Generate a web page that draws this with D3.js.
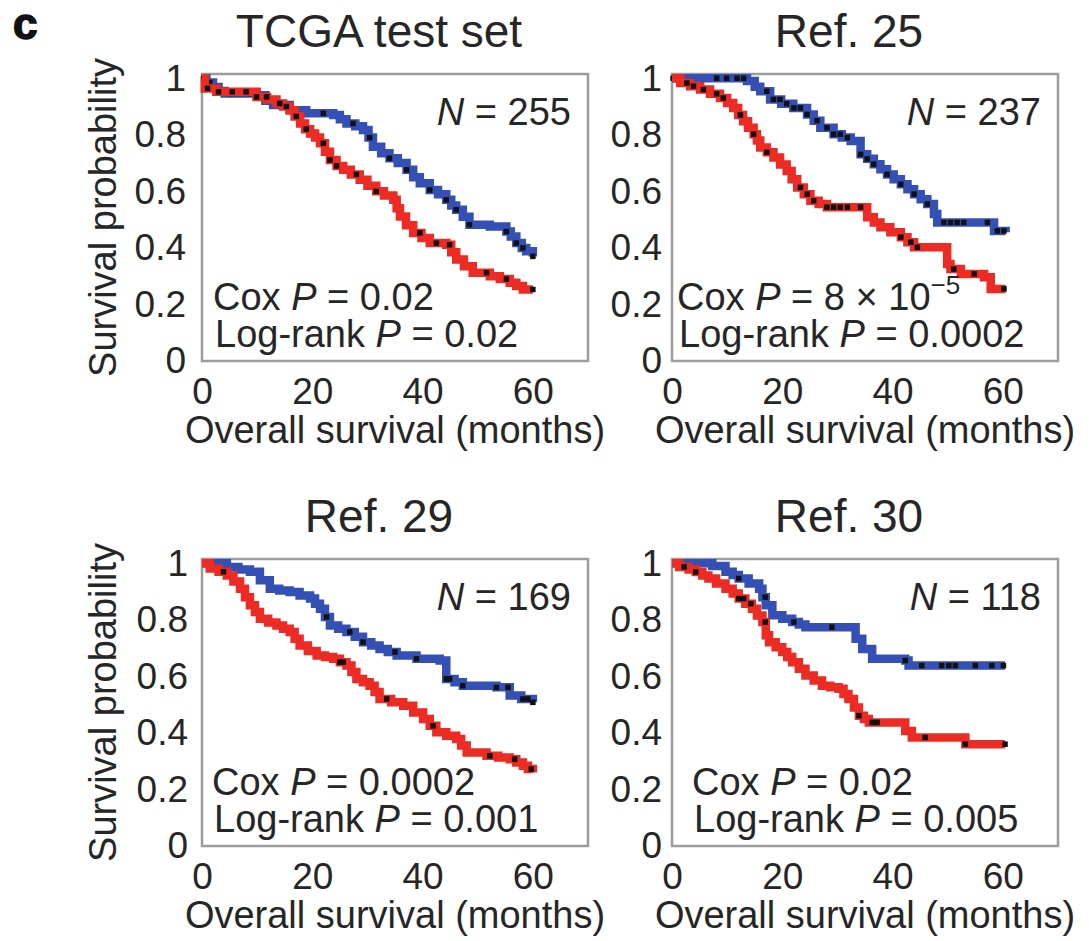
<!DOCTYPE html>
<html>
<head>
<meta charset="utf-8">
<script src="https://cdn.jsdelivr.net/npm/d3@7"></script>
<style>
  body { margin: 0; background: #fff; }
  svg { display: block; font-family: 'Liberation Sans', Arial, Helvetica, sans-serif; }
</style>
</head>
<body>
<div id="chart"></div>
<script>
// panel texts
const panelTitles = ['TCGA test set', 'Ref. 25', 'Ref. 29', 'Ref. 30']
const sampleSizes = ['255', '237', '169', '118']
const coxP = ['0.02', '8 × 10^−5', '0.0002', '0.02']
const logRankP = ['0.02', '0.0002', '0.001', '0.005']
const xTicks = [0, 20, 40, 60]
const yTicks = [0, 0.2, 0.4, 0.6, 0.8, 1]

// Kaplan-Meier steps: [months, survival] (value holds from that month on)
const tcgaBlue = [[0, 1], [0.8, 0.985], [2, 0.969], [3, 0.955], [4.1, 0.946], [9.9, 0.94], [11.5, 0.92], [12.9, 0.905],
    [15.9, 0.887], [18.9, 0.876], [23.8, 0.87], [25, 0.855], [26.2, 0.84], [27.8, 0.83], [29.2, 0.817], [30.2, 0.79],
    [31, 0.758], [32.5, 0.735], [34, 0.717], [35.5, 0.7], [37.1, 0.676], [38.3, 0.65], [39.5, 0.629], [41.3, 0.605],
    [42.8, 0.59], [44.3, 0.57], [45.2, 0.55], [46.1, 0.535], [47.3, 0.51], [48.5, 0.482], [52.2, 0.476], [55.2, 0.458],
    [56, 0.44], [57, 0.417], [58, 0.4], [58.8, 0.388], [60, 0.37]]
const tcgaRed = [[0, 1], [0.5, 0.964], [2.6, 0.952], [9.9, 0.934], [11.8, 0.925], [13.5, 0.911], [14.7, 0.9], [15.9, 0.887],
    [16.8, 0.865], [17.8, 0.84], [18.7, 0.82], [19.6, 0.805], [20.5, 0.79], [21.4, 0.77], [22.3, 0.74], [23.2, 0.711],
    [24.4, 0.69], [25.6, 0.676], [27, 0.66], [28.6, 0.641], [30, 0.62], [31.6, 0.6], [33, 0.585], [34.7, 0.57],
    [35.3, 0.54], [35.9, 0.511], [37, 0.48], [38.3, 0.453], [39.8, 0.435], [41.3, 0.417], [44.3, 0.411], [45.2, 0.385],
    [46.1, 0.359], [47.5, 0.335], [49.1, 0.312], [52.2, 0.3], [54, 0.29], [55.8, 0.277], [57, 0.265], [58.2, 0.253], [60, 0.253]]
const ref25Blue = [[0, 1], [8.7, 1], [13.6, 0.99], [15, 0.97], [16, 0.954], [17.8, 0.925], [19.8, 0.91], [22, 0.895],
    [24.5, 0.872], [25.7, 0.85], [26.9, 0.825], [29.3, 0.802], [30.8, 0.79], [32.4, 0.778], [34.2, 0.731], [35.4, 0.715],
    [36.6, 0.696], [37.8, 0.678], [39, 0.66], [40.2, 0.643], [41.5, 0.625], [42.7, 0.607], [43.9, 0.59], [45.1, 0.572],
    [46.3, 0.555], [47.5, 0.52], [48.1, 0.49], [57.8, 0.49], [58.4, 0.46], [60.5, 0.455]]
const ref25Red = [[0, 1], [1.5, 0.983], [3.3, 0.972], [5.1, 0.96], [6.9, 0.945], [8.7, 0.93], [10, 0.912], [11.1, 0.895],
    [12, 0.87], [12.9, 0.848], [13.8, 0.825], [14.8, 0.802], [15.4, 0.78], [16, 0.755], [17.2, 0.738], [18.4, 0.72],
    [19.6, 0.695], [20.8, 0.672], [21.7, 0.643], [22.7, 0.614], [23.9, 0.59], [25.1, 0.567], [26.6, 0.555], [28.1, 0.544],
    [33, 0.544], [35.4, 0.508], [36.6, 0.49], [37.8, 0.473], [39.6, 0.455], [41.5, 0.438], [42.7, 0.42], [43.9, 0.402],
    [48.7, 0.402], [49.9, 0.343], [50.5, 0.325], [52.4, 0.308], [56.6, 0.296], [57.8, 0.255], [60.5, 0.255]]
const ref29Blue = [[0, 1], [3.3, 1], [4.5, 0.987], [6.6, 0.978], [8.7, 0.97], [10.5, 0.94], [12.3, 0.91], [14, 0.904],
    [15.9, 0.898], [17.7, 0.886], [19.6, 0.875], [20.5, 0.857], [21.4, 0.839], [22.3, 0.81], [23.2, 0.78], [24.7, 0.768],
    [26.2, 0.757], [27.7, 0.74], [29.2, 0.721], [30.7, 0.709], [32.2, 0.697], [33.7, 0.686], [35.3, 0.674], [38.9, 0.662],
    [43.1, 0.656], [44.3, 0.591], [45.8, 0.579], [47.3, 0.567], [53.4, 0.561], [55.8, 0.532], [57.9, 0.52], [60, 0.508]]
const ref29Red = [[0, 1], [1.4, 0.981], [3, 0.97], [4.5, 0.957], [5.7, 0.935], [6.9, 0.91], [7.8, 0.88], [8.7, 0.851],
    [9.6, 0.828], [10.5, 0.804], [12, 0.79], [13.5, 0.78], [14.7, 0.768], [15.9, 0.757], [16.8, 0.733], [17.7, 0.709],
    [19.2, 0.69], [20.8, 0.674], [22.3, 0.668], [23.8, 0.662], [25, 0.65], [26.2, 0.638], [27.1, 0.615], [28, 0.591],
    [29.2, 0.579], [30.4, 0.567], [31.3, 0.545], [32.2, 0.52], [34.3, 0.508], [36.5, 0.496], [38.3, 0.472], [40.1, 0.449],
    [41.3, 0.425], [42.5, 0.402], [44.3, 0.39], [46.1, 0.378], [47, 0.355], [48, 0.331], [51.6, 0.319], [53.7, 0.313],
    [55.8, 0.307], [57, 0.295], [58.2, 0.284], [59.1, 0.272], [60, 0.26]]
const ref30Blue = [[0, 1], [6.1, 1], [7.3, 0.99], [9.7, 0.97], [11, 0.958], [12.1, 0.946], [13.9, 0.928], [15.8, 0.91],
    [16.4, 0.88], [17, 0.851], [18.2, 0.816], [20, 0.804], [21.8, 0.792], [23, 0.783], [24.2, 0.774], [32.7, 0.774],
    [33.3, 0.733], [34.5, 0.697], [36.3, 0.662], [42.3, 0.656], [42.9, 0.638], [60.4, 0.638]]
const ref30Red = [[0, 1], [1.3, 0.987], [3, 0.978], [4.3, 0.969], [5.5, 0.957], [6.6, 0.946], [8, 0.928], [9.7, 0.91],
    [11, 0.893], [12.1, 0.875], [13.3, 0.857], [14.5, 0.839], [15.4, 0.815], [16.4, 0.792], [17, 0.745], [17.6, 0.721],
    [18.8, 0.703], [20, 0.686], [20.9, 0.668], [21.8, 0.65], [23, 0.627], [24.2, 0.603], [25.7, 0.585], [27.2, 0.567],
    [28.7, 0.561], [30.2, 0.556], [31.1, 0.538], [32, 0.52], [33, 0.49], [33.9, 0.461], [34.8, 0.449], [35.7, 0.437],
    [39.9, 0.437], [42.3, 0.407], [43.5, 0.384], [52.6, 0.384], [53.2, 0.36], [60.4, 0.36]]

// censoring times (months)
const tcgaBlueCensor = [0.3, 1.4, 2.7, 3.9, 5.1, 6.3, 7.5, 8.7, 22, 27.4, 30.4, 34, 37.1, 41.3, 44.3, 46.1, 48.5, 55.2, 57, 58.2, 60]
const tcgaRedCensor = [1, 3, 5.5, 8, 9.9, 11.7, 14.1, 15.3, 17.1, 18.9, 22, 23.2, 24.4, 28, 31.6, 39.5, 42.5, 44.9, 51.6, 55.2, 60]
const ref25BlueCensor = [0.2, 1.5, 8.1, 9.9, 11.8, 13, 17.2, 18.4, 19.6, 20.8, 22.1, 23.3, 24.5, 26.3, 28.1, 29.3, 30.5,
    31.8, 34.2, 35.4, 36.6, 39, 41.5, 43.9, 46.3, 49.3, 50.5, 51.7, 52.9, 57.2, 59, 60.2]
const ref25RedCensor = [2.7, 3.9, 5.7, 8.1, 9.3, 12.4, 14.8, 17.2, 23.3, 24.5, 25.7, 28.1, 29.3, 30.5, 31.8, 34.2, 41.5, 43.3, 44.5, 51.1, 54.8, 60.2]
const ref29BlueCensor = [22.6, 26.8, 29.2, 35, 38.9, 44.3, 44.9, 47.3, 53.4, 55.5, 58.2, 59.1, 60]
const ref29RedCensor = [3.9, 25, 25.6, 33.5, 41.9, 52.2, 56.7, 59.7]
const ref30BlueCensor = [12.1, 16.9, 22.1, 29, 42.3, 45.3, 48.9, 50.2, 51.4, 55, 58, 60.1]
const ref30RedCensor = [2.2, 4.3, 12.1, 13, 14.3, 16.9, 33.9, 36.3, 37.2, 45.9, 53.2, 60.4]

const panels = [
    { blue: tcgaBlue, red: tcgaRed, blueCensor: tcgaBlueCensor, redCensor: tcgaRedCensor },
    { blue: ref25Blue, red: ref25Red, blueCensor: ref25BlueCensor, redCensor: ref25RedCensor },
    { blue: ref29Blue, red: ref29Red, blueCensor: ref29BlueCensor, redCensor: ref29RedCensor },
    { blue: ref30Blue, red: ref30Red, blueCensor: ref30BlueCensor, redCensor: ref30RedCensor }
]

// layout of each plot box
let boxes = [
    { left: 202, top: 74, tickGap: 16, textX: 11 },
    { left: 672, top: 74, tickGap: 10, textX: 5 },
    { left: 202, top: 559, tickGap: 14, textX: 10 },
    { left: 672, top: 559, tickGap: 10, textX: 20 }
]
let boxW = 386, boxH = 287
let blueColor = '#3550b4', redColor = '#ec2b25', textColor = '#262626'

let svg = d3.select('#chart').append('svg')
    .attr('width', 1089)
    .attr('height', 941)

svg.append('text')
    .attr('x', 13)
    .attr('y', 39)
    .attr('font-size', 44)
    .attr('font-weight', 'bold')
    .attr('fill', '#111')
    .attr('stroke', '#111')
    .attr('stroke-width', 1.5)
    .text('c')

let bisect = d3.bisector(d => d[0]).right
let stepValue = (steps, t) => steps[Math.max(0, bisect(steps, t) - 1)][1]

panels.forEach((p, i) => {
    let b = boxes[i]
    let x = d3.scaleLinear().domain([0, 70]).range([b.left, b.left + boxW])
    let y = d3.scaleLinear().domain([0, 1.015]).range([b.top + boxH, b.top])

    let g = svg.append('g').attr('class', 'panel')

    // title
    g.append('text')
        .attr('x', b.left + boxW / 2 - 16)
        .attr('y', b.top - 27)
        .attr('text-anchor', 'middle')
        .attr('font-size', 46)
        .attr('fill', textColor)
        .text(panelTitles[i])

    // axes (labels only, no ticks)
    let xAxis = g.append('g')
        .attr('transform', `translate(0,${b.top + boxH})`)
        .call(d3.axisBottom(x).tickValues(xTicks).tickSize(0).tickPadding(17))
    let yAxis = g.append('g')
        .attr('transform', `translate(${b.left},0)`)
        .call(d3.axisLeft(y).tickValues(yTicks).tickSize(0).tickPadding(b.tickGap).tickFormat(d3.format('~g')))
    ;[xAxis, yAxis].forEach(a => {
        a.attr('font-family', null).attr('font-size', 37).attr('color', textColor)
        a.select('.domain').remove()
    })

    // box
    g.append('rect')
        .attr('x', b.left)
        .attr('y', b.top)
        .attr('width', boxW)
        .attr('height', boxH)
        .attr('fill', 'none')
        .attr('stroke', '#9c9c9c')
        .attr('stroke-width', 2.5)

    let line = d3.line()
        .x(d => x(d[0]))
        .y(d => y(d[1]))
        .curve(d3.curveStepAfter)

    ;[[p.blue, p.blueCensor, blueColor], [p.red, p.redCensor, redColor]].forEach(([steps, censor, color]) => {
        g.append('path')
            .datum(steps)
            .attr('d', line)
            .attr('fill', 'none')
            .attr('stroke', color)
            .attr('stroke-width', 8.5)
            .attr('stroke-linejoin', 'miter')

        g.append('g').selectAll('rect')
            .data(censor)
            .enter().append('rect')
            .attr('x', d => x(d) - 2.75)
            .attr('y', d => y(stepValue(steps, d)) - 2.75)
            .attr('width', 5.5)
            .attr('height', 5.5)
            .attr('fill', '#111')
    })

    // N
    let nText = g.append('text')
        .attr('x', b.left + boxW - 17)
        .attr('y', b.top + 51)
        .attr('text-anchor', 'end')
        .attr('font-size', 38)
        .attr('fill', textColor)
    nText.append('tspan').attr('font-style', 'italic').text('N')
    nText.append('tspan').text(' = ' + sampleSizes[i])

    // Cox P
    let coxText = g.append('text')
        .attr('x', b.left + b.textX)
        .attr('y', b.top + 236)
        .attr('font-size', 38)
        .attr('fill', textColor)
    coxText.append('tspan').text('Cox ')
    coxText.append('tspan').attr('font-style', 'italic').text('P')
    let parts = coxP[i].split('^')
    coxText.append('tspan').text(' = ' + parts[0])
    if (parts[1]) {
        coxText.append('tspan')
            .attr('dy', -16)
            .attr('font-size', 26)
            .text(parts[1])
    }

    // log-rank P
    let lrText = g.append('text')
        .attr('x', b.left + b.textX + 2)
        .attr('y', b.top + 273)
        .attr('font-size', 38)
        .attr('fill', textColor)
    lrText.append('tspan').text('Log-rank ')
    lrText.append('tspan').attr('font-style', 'italic').text('P')
    lrText.append('tspan').text(' = ' + logRankP[i])

    // axis titles
    g.append('text')
        .attr('x', b.left + boxW / 2)
        .attr('y', b.top + boxH + 82)
        .attr('text-anchor', 'middle')
        .attr('font-size', 38)
        .attr('fill', textColor)
        .text('Overall survival (months)')

    if (i % 2 === 0) {
        g.append('text')
            .attr('transform', `translate(116,${b.top + boxH / 2}) rotate(-90)`)
            .attr('text-anchor', 'middle')
            .attr('font-size', 38)
            .attr('fill', textColor)
            .text('Survival probability')
    }
})
</script>
</body>
</html>
